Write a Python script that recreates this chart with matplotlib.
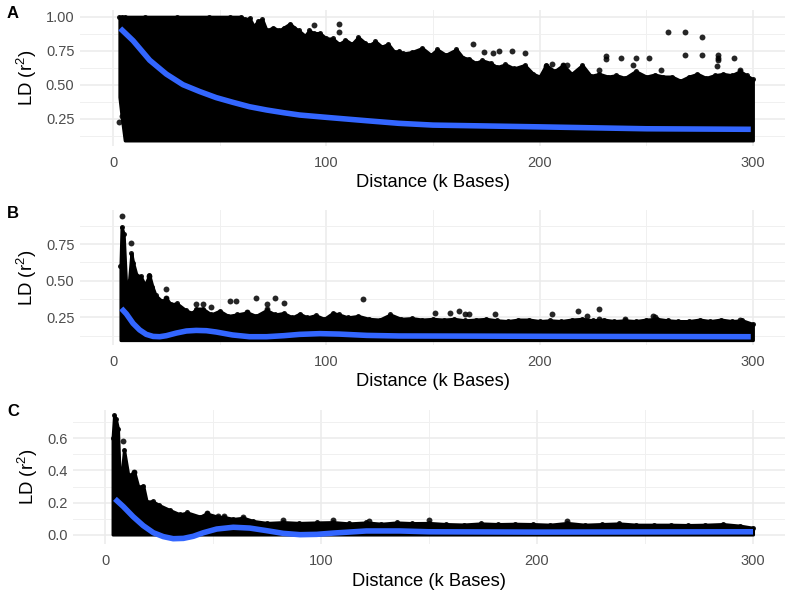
import matplotlib
matplotlib.use("Agg")
import matplotlib.pyplot as plt

plt.rcParams["font.family"] = ["Liberation Sans", "DejaVu Sans"]
plt.rcParams["mathtext.default"] = "regular"

# Panel A - top edge of the point cloud
a_edge_x = [3, 4, 5.5, 15, 30, 45, 55, 60, 62, 64, 66, 68, 70, 72, 75, 78, 80, 83, 85, 87, 90, 92, 94, 97, 100,
            103, 106, 109, 112, 115, 118, 120, 123, 126, 129, 132, 134, 136, 140, 145, 149, 152, 156, 161, 164, 167,
            170, 173, 177, 180, 184, 188, 193, 197, 200, 203, 207, 211, 215, 220, 224, 228, 232, 236, 240, 245,
            250, 254, 258, 262, 266, 270, 274, 278, 282, 286, 290, 294, 297, 300]
a_edge_y = [1.0, 1.0, 1.0, 1.0, 1.0, 1.0, 1.0, 1.0, 0.98, 0.99, 0.93, 0.97, 0.98, 0.90, 0.92, 0.90, 0.92, 0.95, 0.92,
            0.90, 0.86, 0.90, 0.88, 0.88, 0.84, 0.84, 0.80, 0.83, 0.80, 0.85, 0.81, 0.79, 0.82, 0.78, 0.80, 0.74,
            0.75, 0.73, 0.74, 0.77, 0.72, 0.76, 0.72, 0.76, 0.70, 0.69, 0.66, 0.68, 0.66, 0.63, 0.65, 0.62, 0.645,
            0.58, 0.56, 0.645, 0.60, 0.645, 0.58, 0.645, 0.565, 0.58, 0.56, 0.57, 0.55, 0.60, 0.56, 0.575, 0.56,
            0.56, 0.53, 0.56, 0.58, 0.55, 0.57, 0.58, 0.57, 0.60, 0.57, 0.54]
a_out_x = [2.8, 4.4, 106, 106, 94, 169, 174, 178, 181, 187, 193, 203, 206, 211, 213, 228, 231, 231, 238, 245, 244,
           251.5, 257, 260, 268, 276, 268, 276, 283.6, 283.6, 283.6, 283, 291, 294]
a_out_y = [0.228, 0.27, 0.95, 0.89, 0.94, 0.80, 0.74, 0.73, 0.745, 0.75, 0.735, 0.64, 0.65, 0.645, 0.645, 0.61, 0.71,
           0.69, 0.695, 0.695, 0.645, 0.695, 0.61, 0.89, 0.89, 0.85, 0.72, 0.72, 0.72, 0.70, 0.68, 0.64, 0.70, 0.61]
a_fit_x = [3.4, 9.4, 17.2, 25, 32.8, 40.6, 48.4, 56.3, 64, 72, 80, 87.5, 100, 119, 134, 150, 177, 200, 250, 299]
a_fit_y = [0.914, 0.824, 0.68, 0.578, 0.50, 0.45, 0.405, 0.37, 0.338, 0.314, 0.294, 0.277, 0.26, 0.235, 0.216, 0.203,
           0.196, 0.19, 0.176, 0.172]

# Panel B
b_edge_x = [3.5, 4, 5, 6.3, 7.5, 8.6, 9.5, 11, 13, 15, 17, 18.5, 20, 23, 25, 27, 30, 34, 37, 39, 42, 46, 50, 54, 58,
            63, 67, 72, 76, 80, 84, 87.5, 91, 95, 99, 103, 106, 110, 115, 120, 125, 130, 135, 140, 145, 150, 155,
            160, 165, 170, 175, 180, 185, 190, 195, 200, 205, 210, 215, 220, 225, 230, 235, 240, 245, 250, 255,
            260, 265, 270, 275, 280, 285, 290, 295, 300]
b_edge_y = [0.60, 0.868, 0.82, 0.42, 0.50, 0.686, 0.62, 0.54, 0.53, 0.47, 0.54, 0.46, 0.40, 0.36, 0.38, 0.34, 0.345,
            0.30, 0.28, 0.31, 0.31, 0.27, 0.295, 0.26, 0.27, 0.284, 0.26, 0.30, 0.27, 0.28, 0.25, 0.275, 0.25,
            0.265, 0.24, 0.28, 0.27, 0.25, 0.26, 0.24, 0.235, 0.27, 0.24, 0.245, 0.235, 0.24, 0.235, 0.24, 0.23,
            0.235, 0.24, 0.23, 0.225, 0.235, 0.235, 0.225, 0.23, 0.225, 0.235, 0.24, 0.23, 0.235, 0.225, 0.23,
            0.225, 0.235, 0.24, 0.23, 0.225, 0.225, 0.235, 0.225, 0.235, 0.225, 0.23, 0.205]
b_out_x = [4, 8.6, 17, 17, 25, 25, 39, 42, 46, 55, 57.5, 63, 67, 72, 72, 76, 80, 117, 151, 158, 162, 165, 167, 179, 206,
           218, 228, 222, 228, 240, 253, 254, 294]
b_out_y = [0.94, 0.76, 0.53, 0.46, 0.44, 0.38, 0.34, 0.34, 0.32, 0.364, 0.364, 0.284, 0.384, 0.34, 0.31, 0.384, 0.35,
           0.373, 0.28, 0.28, 0.29, 0.27, 0.27, 0.27, 0.27, 0.29, 0.31, 0.26, 0.24, 0.24, 0.26, 0.25, 0.235]
b_fit_x = [3.9, 6.3, 9.4, 12.5, 15.6, 18.8, 21.9, 25, 29.7, 34.4, 39, 43.8, 48.4, 56, 64, 72, 80, 87.5, 97, 106, 119,
           134, 170, 220, 299]
b_fit_y = [0.311, 0.273, 0.209, 0.164, 0.134, 0.12, 0.118, 0.125, 0.143, 0.157, 0.161, 0.159, 0.15, 0.13, 0.118, 0.118,
           0.125, 0.134, 0.139, 0.136, 0.127, 0.123, 0.122, 0.12, 0.118]

# Panel C
c_edge_x = [3.5, 4.2, 5, 6, 7, 8.8, 10.8, 13.6, 15.4, 17.7, 19.3, 22, 25, 30, 34.7, 38, 44, 47, 52.5, 55, 59.4, 64,
            68.7, 75, 82.6, 90, 98, 105.7, 113, 121, 128, 135, 142, 150, 158, 166, 174, 182, 190, 198, 206, 214,
            222, 230, 238, 246, 254, 262, 270, 278, 286, 294, 300]
c_edge_y = [0.60, 0.745, 0.72, 0.66, 0.28, 0.53, 0.37, 0.39, 0.30, 0.306, 0.207, 0.21, 0.186, 0.155, 0.128, 0.14, 0.114,
            0.134, 0.112, 0.112, 0.10, 0.107, 0.087, 0.075, 0.08, 0.075, 0.078, 0.08, 0.072, 0.078, 0.07, 0.078,
            0.074, 0.075, 0.068, 0.065, 0.072, 0.068, 0.07, 0.068, 0.064, 0.075, 0.064, 0.068, 0.072, 0.064, 0.064,
            0.064, 0.062, 0.064, 0.068, 0.058, 0.045]
c_out_x = [8.5, 13.6, 47, 52.5, 55, 64, 82.6, 105.7, 122, 150, 214]
c_out_y = [0.58, 0.39, 0.134, 0.115, 0.115, 0.11, 0.09, 0.09, 0.085, 0.093, 0.085]
c_fit_x = [4.6, 8.5, 13, 17.7, 22.4, 27, 31.6, 36.3, 40.9, 45.5, 51.7, 59.4, 67, 74.8, 82.6, 90.3, 98, 105.7, 121, 136.6,
           150, 200, 300]
c_fit_y = [0.224, 0.176, 0.114, 0.058, 0.014, -0.01, -0.023, -0.021, -0.008, 0.014, 0.037, 0.048, 0.043, 0.027, 0.01,
           0.002, 0.004, 0.012, 0.025, 0.025, 0.02, 0.018, 0.02]

W, H = 787, 593

fig = plt.figure(figsize=(W / 100, H / 100), dpi=100)


def panel(letter, letter_y, box, xlim, ylim, yticks, yminor, ylabels, edge, bottom, out, fit, xpad):
    left, right, top, bot = box
    ax = fig.add_axes([left / W, 1 - bot / H, (right - left) / W, (bot - top) / H])
    ax.set_xlim(*xlim)
    ax.set_ylim(*ylim)
    ax.set_axisbelow(True)
    for s in ax.spines.values():
        s.set_visible(False)

    ax.set_xticks([0, 100, 200, 300])
    ax.set_xticks([50, 150, 250], minor=True)
    ax.set_yticks(yticks)
    ax.set_yticklabels(ylabels)
    ax.set_yticks(yminor, minor=True)
    ax.grid(True, which="major", color="#ebebeb", lw=1.1)
    ax.grid(True, which="minor", color="#f0f0f0", lw=0.7)
    ax.tick_params(which="both", length=0)
    ax.tick_params(axis="both", which="major", labelsize=10.5, labelcolor="#4d4d4d", pad=4)
    ax.tick_params(axis="x", which="major", pad=7)

    ax.set_xlabel("Distance (k Bases)", fontsize=13.2, labelpad=xpad)
    ax.set_ylabel("LD (r$^2$)", fontsize=13.4, labelpad=5)

    ex, ey = edge
    # the stroke stands in for the radius of the overlapping dots
    ax.fill_between(ex, bottom, ey, facecolor="black", edgecolor="black", lw=2.2, joinstyle="round", zorder=2)
    ax.scatter(ex, ey, s=13, color="black", alpha=0.9, lw=0, zorder=3)
    ax.scatter(out[0], out[1], s=18, color="black", alpha=0.85, lw=0, zorder=3)
    ax.plot(fit[0], fit[1], color="#3366ff", lw=4, solid_capstyle="butt", zorder=4)

    fig.text(7 / W, 1 - letter_y / H, letter, fontsize=12, fontweight="bold", va="center")
    return ax


panel("A", 13, (80, 785, 10, 146), ((80 - 113) / 2.133, (785 - 113) / 2.133),
      (1 - (146 - 16.7) / 136, 1 + (16.7 - 10) / 136),
      [0.25, 0.5, 0.75, 1.0], [0.125, 0.375, 0.625, 0.875], ["0.25", "0.50", "0.75", "1.00"],
      (a_edge_x, a_edge_y), [0.41, 0.27] + [0.09] * (len(a_edge_x) - 2),
      (a_out_x, a_out_y), (a_fit_x, a_fit_y), 3)

panel("B", 213, (80, 785, 210, 345), ((80 - 113) / 2.133, (785 - 113) / 2.133),
      (0.75 - (345 - 244) / 146.7, 0.75 + (244 - 210) / 146.7),
      [0.25, 0.5, 0.75], [0.125, 0.375, 0.625, 0.875], ["0.25", "0.50", "0.75"],
      (b_edge_x, b_edge_y), 0.095,
      (b_out_x, b_out_y), (b_fit_x, b_fit_y), 3)

panel("C", 411, (73, 785, 410, 544), ((73 - 105) / 2.16, (785 - 105) / 2.16),
      (-(544 - 535) / 161.3, (535 - 410) / 161.3),
      [0, 0.2, 0.4, 0.6], [0.1, 0.3, 0.5, 0.7], ["0.0", "0.2", "0.4", "0.6"],
      (c_edge_x, c_edge_y), 0.003,
      (c_out_x, c_out_y), (c_fit_x, c_fit_y), 4)

fig.savefig("out.png", dpi=100)
